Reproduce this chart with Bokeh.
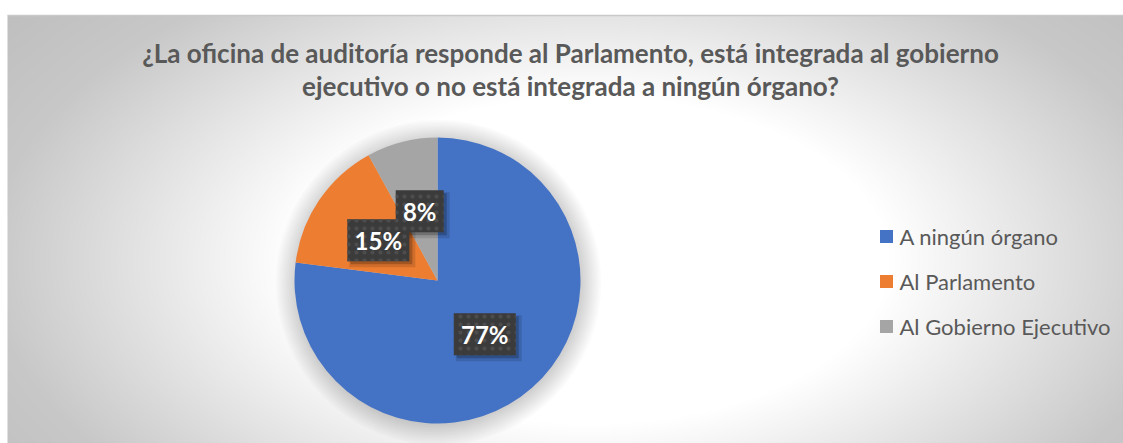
import numpy as np
from bokeh.plotting import figure
from bokeh.models import Range1d, ColumnDataSource
from bokeh.core.properties import value
from bokeh.embed import file_html
from bokeh.resources import INLINE

# ---------------- data ----------------
categories = ["A ningún órgano", "Al Parlamento", "Al Gobierno Ejecutivo"]
percentages = [77, 15, 8]
colors = ["#4472C4", "#ED7D31", "#A5A5A5"]
title_lines = ["¿La oficina de auditoría responde al Parlamento, está integrada al gobierno",
               "ejecutivo o no está integrada a ningún órgano?"]

# ---------------- layout ----------------
W, H = 1123, 443
def Y(page_y):    # page y -> data y
    return H - page_y

p = figure(width=W, height=H, output_backend="svg", toolbar_location=None,
           x_range=Range1d(0, W), y_range=Range1d(0, H), min_border=0,
           background_fill_color="white", border_fill_color="white")
p.axis.visible = False
p.grid.visible = False
p.outline_line_color = None

# background radial gradient (chart area page x 7..1123, y 15..443)
GX0, GY0 = 7, 15
GW, GH = W - GX0, H - GY0
xs = np.arange(GW) + GX0 + 0.5
rows = np.arange(GH)
pys = H - (rows + 0.5)
XX, PY = np.meshgrid(xs, pys)
r = np.sqrt(((XX - 590) / 600.0) ** 2 + ((PY - 260) / 330.0) ** 2)
g = 255 - 55 * np.clip((r - 0.5) / 0.5, 0, 1) - 12 * np.clip((r - 1.0) / 0.3, 0, 1)
g = g.astype(np.uint8)
img = np.empty((GH, GW), dtype=np.uint32)
v = img.view(dtype=np.uint8).reshape((GH, GW, 4))
v[..., 0] = g
v[..., 1] = g
v[..., 2] = g
v[..., 3] = 255
p.image_rgba(image=[img], x=GX0, y=0, dw=GW, dh=GH)
p.segment(x0=GX0, y0=Y(GY0), x1=W, y1=Y(GY0), line_color="#c8c8c8", line_width=1.5)

# title
for i, line in enumerate(title_lines):
    p.text(x=[570], y=[Y(52 + 33 * i)], text=[line], text_align="center",
           text_baseline="middle", text_font=value("Lato"), text_font_style="bold",
           text_font_size="26px", text_color="#595959")

# pie
CX, CY, R = 437, Y(280), 143
# soft shadow
for k in range(12):
    p.circle(x=[CX + 1], y=[CY - 2], radius=R + 1.8 * k, fill_color="black",
             fill_alpha=0.017, line_color=None)

cum = np.cumsum([0] + percentages)
start = [np.deg2rad(90 - cum[i + 1] * 3.6) for i in range(len(percentages))]
end = [np.deg2rad(90 - cum[i] * 3.6) for i in range(len(percentages))]
src = ColumnDataSource(dict(start=start, end=end, color=colors))
p.wedge(x=CX, y=CY, radius=R, start_angle="start", end_angle="end",
        direction="anticlock", fill_color="color", line_color=None, source=src)

# data labels
mids = [(s + e) / 2 for s, e in zip(start, end)]
lx = [CX + 0.5 * R * np.cos(m) for m in mids]
ly = [CY + 0.5 * R * np.sin(m) for m in mids]
labels = [f"{v_}%" for v_ in percentages]
bw = [20 + 14 * len(t) for t in labels]
bh = 42
p.rect(x=[x + 4 for x in lx], y=[y - 4 for y in ly], width=[w + 4 for w in bw], height=bh + 4,
       fill_color="black", fill_alpha=0.12, line_color=None)
p.rect(x=[x + 3 for x in lx], y=[y - 3 for y in ly], width=bw, height=bh,
       fill_color="black", fill_alpha=0.22, line_color=None)
p.rect(x=lx, y=ly, width=bw, height=bh, fill_color="#3b3b3b", line_color=None,
       hatch_pattern="dot", hatch_color="#4d4d4d", hatch_scale=8, hatch_weight=1)
p.text(x=lx, y=ly, text=labels, text_align="center", text_baseline="middle",
       text_font=value("Lato"), text_font_style="bold", text_font_size="24px",
       text_color="white")

# legend
for i, (cat, col) in enumerate(zip(categories, colors)):
    yy = Y(236 + 45 * i)
    p.rect(x=[886], y=[yy], width=13, height=13, fill_color=col, line_color=None)
    p.text(x=[899], y=[yy], text=[cat], text_align="left", text_baseline="middle",
           text_font=value("Lato"), text_font_size="22px", text_color="#595959")

open("out.html", "w").write(file_html(p, INLINE))
